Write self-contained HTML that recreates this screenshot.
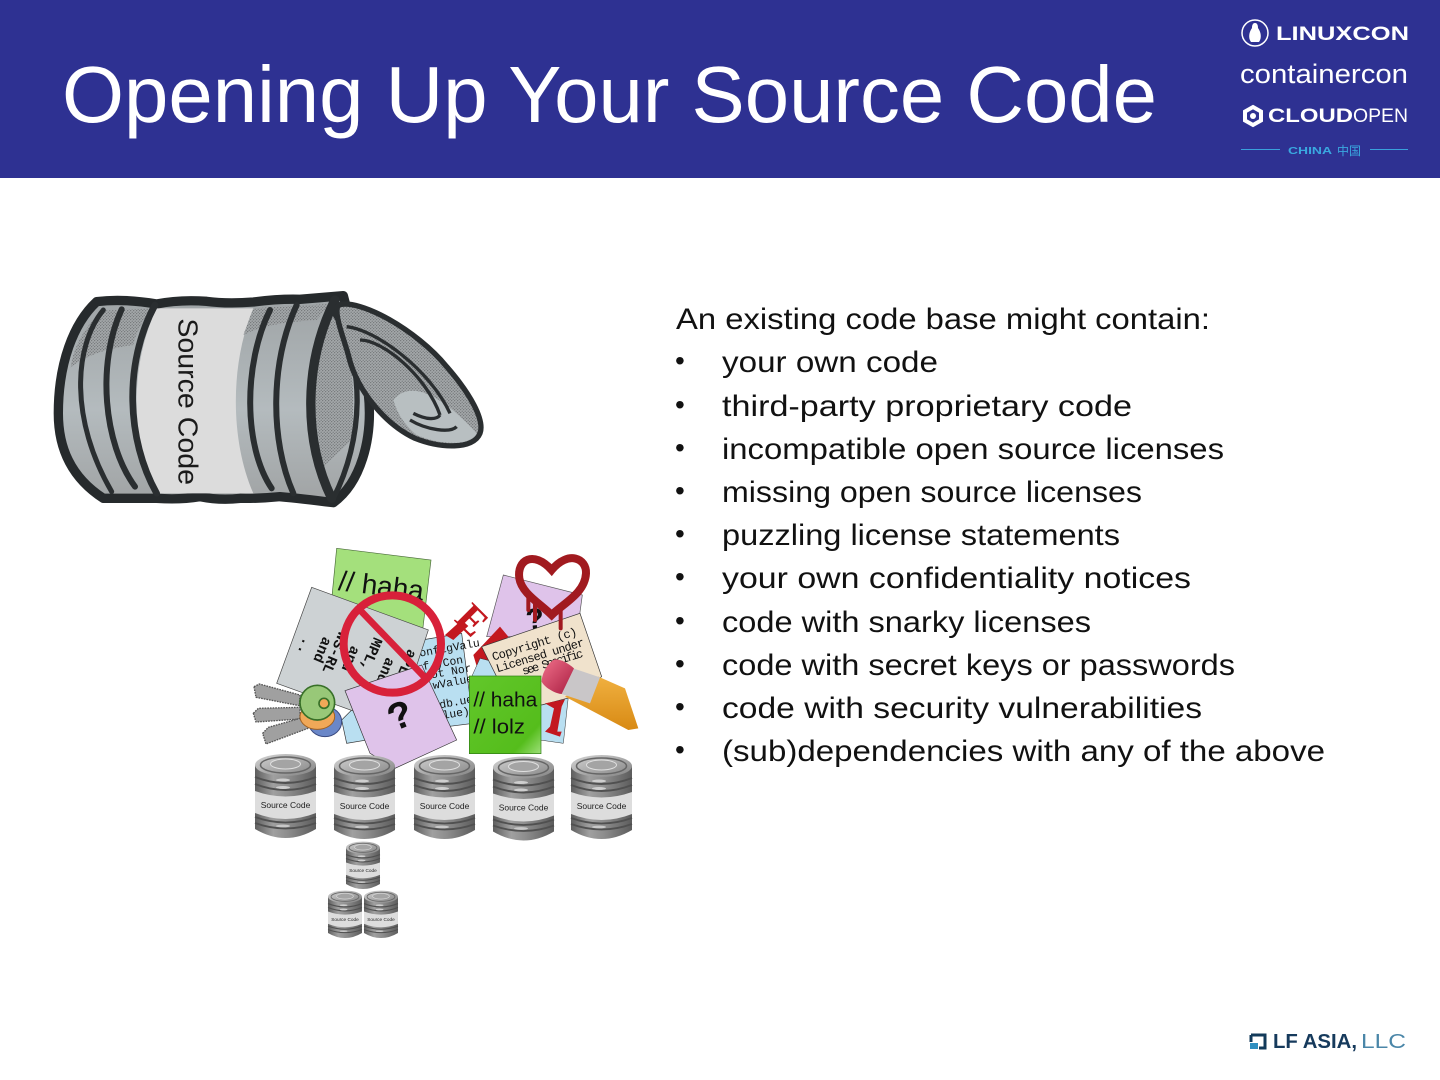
<!DOCTYPE html>
<html><head><meta charset="utf-8"><style>
html,body{margin:0;padding:0;background:#fff}
svg{display:block}
.b{font:30px "Liberation Sans",sans-serif;fill:#111}
.lab{font:8.5px "Liberation Sans",sans-serif;fill:#222}
.m{font-family:"Liberation Mono",monospace;fill:#111}
</style></head><body>
<svg width="1440" height="1080" viewBox="0 0 1440 1080" xmlns="http://www.w3.org/2000/svg">
<defs>
<linearGradient id="cg" x1="0" x2="1" y1="0" y2="0"><stop offset="0" stop-color="#5e5e5e"/><stop offset=".3" stop-color="#a0a0a0"/><stop offset=".55" stop-color="#8c8c8c"/><stop offset="1" stop-color="#5c5c5c"/></linearGradient>
<linearGradient id="tg" x1="0" x2="1" y1="0" y2="1"><stop offset="0" stop-color="#d4d4d4"/><stop offset="1" stop-color="#828282"/></linearGradient>
<linearGradient id="big" x1="0" x2="0" y1="0" y2="1"><stop offset="0" stop-color="#9ea3a5"/><stop offset=".55" stop-color="#b4bbbe"/><stop offset="1" stop-color="#a0a3a4"/></linearGradient>
<linearGradient id="grn" x1="0" x2="1" y1="0" y2="1"><stop offset="0" stop-color="#62c72a"/><stop offset=".8" stop-color="#55bd1c"/><stop offset="1" stop-color="#9fe07a"/></linearGradient>
<linearGradient id="gold" x1="0" x2="0" y1="0" y2="1"><stop offset="0" stop-color="#f0b040"/><stop offset="1" stop-color="#d88a14"/></linearGradient>
<linearGradient id="pink" x1="0" x2="1" y1="0" y2="1"><stop offset="0" stop-color="#f0708a"/><stop offset="1" stop-color="#a81c40"/></linearGradient>
<pattern id="dots" width="9" height="9" patternUnits="userSpaceOnUse"><rect width="9" height="9" fill="#a4a8aa"/><circle cx="2" cy="2" r="1.800" fill="#686b6d"/><circle cx="6.500" cy="6.500" r="1.800" fill="#686b6d"/></pattern>
<g id="can">
<path d="M0,12 V76 Q30.500,94 61,76 V12 Z" fill="url(#cg)"/>
<ellipse cx="30.500" cy="12" rx="30.500" ry="11" fill="url(#tg)"/>
<ellipse cx="30.500" cy="12" rx="25" ry="8" fill="none" stroke="#666" stroke-width="1.500"/>
<ellipse cx="30.500" cy="11" rx="15" ry="5" fill="#a4a4a4" stroke="#e0e0e0" stroke-width="1"/>
<path d="M0,24 Q30.500,36 61,24 M0,31 Q30.500,43 61,31" fill="none" stroke="#505050" stroke-width="2"/>
<ellipse cx="28" cy="27" rx="7" ry="1.500" fill="#cfcfcf"/>
<ellipse cx="28" cy="34.500" rx="7" ry="1.500" fill="#cfcfcf"/>
<path d="M0,38 Q30.500,49 61,38 V60 Q30.500,72 0,60 Z" fill="#dddddd"/>
<path d="M0,64 Q30.500,75 61,64 M0,70 Q30.500,81 61,70" fill="none" stroke="#505050" stroke-width="1.800"/>
<ellipse cx="28" cy="73" rx="7" ry="1.400" fill="#c8c8c8"/>
</g>
</defs>

<rect width="1440" height="1080" fill="#fff"/>
<rect width="1440" height="178" fill="#2e3192"/>
<text x="62" y="122" font-family="Liberation Sans, sans-serif" font-size="80" fill="#fff" textLength="1095" lengthAdjust="spacingAndGlyphs">Opening Up Your Source Code</text>

<!-- logos -->
<circle cx="1255" cy="33" r="13" fill="none" stroke="#fff" stroke-width="1.500"/>
<path d="M1255,23 c3,0 3,4 3,5 c3,4 4,10 1,14 h-8 c-3,-4 -2,-10 1,-14 c0,-1 0,-5 3,-5z" fill="#fff"/>
<text x="1276" y="40" font-family="Liberation Sans, sans-serif" font-weight="700" font-size="19" fill="#fff" textLength="133" lengthAdjust="spacingAndGlyphs">LINUXCON</text>
<text x="1240" y="83" font-family="Liberation Sans, sans-serif" font-size="27" fill="#fff" textLength="168" lengthAdjust="spacingAndGlyphs">containercon</text>
<path d="M1253,107 l8,4.500 v9 l-8,4.500 l-8,-4.500 v-9z" fill="none" stroke="#fff" stroke-width="4"/>
<circle cx="1253" cy="116" r="3" fill="#fff"/>
<text x="1268" y="122" font-family="Liberation Sans, sans-serif" font-weight="700" font-size="19.500" fill="#fff" textLength="85" lengthAdjust="spacingAndGlyphs">CLOUD</text>
<text x="1353" y="122" font-family="Liberation Sans, sans-serif" font-size="19.500" fill="#fff" textLength="55" lengthAdjust="spacingAndGlyphs">OPEN</text>
<path d="M1241,149.500 H1280 M1370,149.500 H1408" stroke="#3aa0dc" stroke-width="1"/>
<text x="1288" y="154" font-family="Liberation Sans, sans-serif" font-size="10.500" font-weight="700" fill="#3aa8e0" textLength="44" lengthAdjust="spacingAndGlyphs">CHINA</text>
<text x="1337" y="155" font-family="Liberation Sans, Noto Sans CJK SC, sans-serif" font-size="12" fill="#3aa8e0">中国</text>

<!-- big can (zoom coords) -->
<g transform="translate(40,280) scale(.33333)">
<path d="M170,65 Q250,55 350,72 Q420,58 500,64 Q560,72 640,66 Q720,56 780,58 L910,47 L985,340 C1000,480 960,610 880,668 Q780,655 720,650 Q660,656 600,655 Q540,662 480,650 Q420,660 350,655 L190,655 C90,590 55,500 55,400 C55,250 100,130 170,65Z" fill="url(#big)" stroke="#262a2c" stroke-width="28" stroke-linejoin="round"/>
<path d="M350,85 H640 C570,250 570,480 640,640 H350 C270,480 270,250 350,85Z" fill="#dcdcdc"/>
<path d="M190,92 L335,85 C300,130 285,170 280,195 C200,205 140,225 92,262 C100,200 140,130 190,92Z" fill="url(#dots)"/>
<path d="M640,85 L870,72 L830,120 C760,125 680,130 610,165 Z" fill="url(#dots)"/>
<path d="M875,95 C930,180 950,300 935,480 L850,560 C820,400 800,250 875,95Z" fill="url(#dots)"/>
<g fill="none" stroke="#2a2e30" stroke-linecap="round">
<path d="M190,90 C100,200 90,420 215,635" stroke-width="15"/>
<path d="M245,88 C170,250 190,490 285,620" stroke-width="18"/>
<path d="M345,75 C250,250 260,480 350,640" stroke-width="20"/>
<path d="M690,90 C610,250 610,500 695,625" stroke-width="18"/>
<path d="M770,75 C690,250 690,480 760,640" stroke-width="18"/>
<path d="M885,60 C790,250 790,480 875,655" stroke-width="28"/>
<path d="M880,95 C980,250 970,480 880,655" stroke-width="16"/>
</g>
<path d="M895,75 C960,55 1130,150 1220,260 C1290,340 1335,420 1320,460 C1300,510 1200,505 1125,475 C1040,435 950,335 925,225 C910,170 880,100 895,75Z" fill="url(#dots)" stroke="#2a2e30" stroke-width="16" stroke-linejoin="round"/>
<path d="M1060,360 C1110,300 1200,340 1310,460 C1290,500 1200,495 1130,465 C1100,440 1075,410 1060,360Z" fill="#b8bfc1"/>
<path d="M920,140 C1010,150 1170,270 1230,400 M960,180 C1030,180 1160,290 1200,405 M1120,400 C1160,420 1190,420 1200,405 M1110,420 C1160,450 1230,460 1250,440" fill="none" stroke="#2a2e30" stroke-width="10"/>
<text transform="translate(416,115) rotate(90)" font-family="Liberation Sans, sans-serif" font-size="84" fill="#1a1a1a" textLength="500" lengthAdjust="spacingAndGlyphs">Source Code</text>
</g>

<!-- pile (zoom coords) -->
<g transform="translate(240,540) scale(.33333)">
<polygon points="290,25 573,60 548,270 270,230" fill="#a4e07c" stroke="#4a6a3a" stroke-width="2"/>
<text transform="translate(293,150) rotate(7)" font-family="Liberation Sans, sans-serif" font-size="84" fill="#111">// haha</text>
<polygon points="545,300 665,280 700,550 620,560 320,610 305,540" fill="#b9dff1" stroke="#333" stroke-width="2"/>
<g class="m" font-size="34"><text transform="translate(540,350) rotate(-10)">onfigValu</text><text transform="translate(550,390) rotate(-10)">f yCon</text><text transform="translate(575,415) rotate(-10)">ot Nor</text><text transform="translate(580,447) rotate(-10)">wValue</text><text transform="translate(600,505) rotate(-10)">db.ue</text><text transform="translate(610,537) rotate(-10)">lue)</text></g>
<polygon points="215,142 565,270 470,560 110,430" fill="#cdd2d4" stroke="#444" stroke-width="2"/>
<g class="m" font-size="44" font-weight="700"><text transform="translate(192,290) rotate(113)">..</text><text transform="translate(250,288) rotate(113)">and</text><text transform="translate(298,272) rotate(113)">WS-RL</text><text transform="translate(335,315) rotate(113)">and</text><text transform="translate(402,290) rotate(113)">MPL,</text><text transform="translate(440,350) rotate(113)">and</text><text transform="translate(505,325) rotate(113)">aPL</text></g>
<polygon points="315,452 545,375 650,600 465,685 390,640" fill="#dfc3ea" stroke="#333" stroke-width="2"/>
<text transform="translate(462,575) rotate(-22)" font-family="Liberation Mono, monospace" font-weight="700" font-size="118" fill="#111">?</text>
<circle cx="457" cy="312" r="146" fill="none" stroke="#d8213a" stroke-width="24"/>
<line x1="358" y1="208" x2="558" y2="416" stroke="#d8213a" stroke-width="20"/>
<polygon points="790,105 1027,165 1010,290 740,290" fill="#dfc3ea" stroke="#555" stroke-width="2"/>
<text transform="translate(640,240) rotate(45)" font-family="Liberation Serif, serif" font-weight="700" font-size="120" fill="#c3181f">E</text>
<polygon points="615,285 665,240 685,258 640,300" fill="#c3181f"/>
<polygon points="700,345 780,260 805,290 760,340 745,405 715,395" fill="#c3181f"/>
<text transform="translate(860,270) rotate(-5)" font-family="Liberation Sans, sans-serif" font-weight="700" font-size="90" fill="#111">?</text>
<polygon points="695,410 720,355 900,400 905,490 985,470 970,610 900,600" fill="#b9dff1" stroke="#333" stroke-width="1.500"/>
<polygon points="725,320 1020,220 1085,410 1000,470 905,495 770,410" fill="#f0e2cc" stroke="#333" stroke-width="2"/>
<g class="m" font-size="36" fill="#333"><text transform="translate(760,362) rotate(-17)" textLength="265">Copyright (c)</text><text transform="translate(772,397) rotate(-17)" textLength="275">Licensed under</text><text transform="translate(850,405) rotate(-17)" textLength="190">see Specific</text></g>
<polygon points="915,490 975,478 965,500 952,575 965,575 960,590 915,575 930,560 942,505" fill="#c3181f"/>
<rect x="688" y="408" width="215" height="233" fill="url(#grn)" stroke="#2d7a14" stroke-width="2"/>
<text x="700" y="500" font-family="Liberation Sans, sans-serif" font-size="60" fill="#111" textLength="192" lengthAdjust="spacingAndGlyphs">// haha</text>
<text x="700" y="580" font-family="Liberation Sans, sans-serif" font-size="60" fill="#111" textLength="155" lengthAdjust="spacingAndGlyphs">// lolz</text>
<path d="M1075,410 L1155,445 L1195,565 L1165,570 L975,470Z" fill="url(#gold)"/>
<path d="M1000,385 L1080,412 L1050,490 L965,462Z" fill="#c9c6c8"/>
<path d="M945,358 C925,365 905,400 905,425 C915,445 950,462 965,462 L1002,385 C985,370 965,358 945,358Z" fill="url(#pink)"/>
<g stroke-linejoin="round">
<path d="M42,440 L58,432 L180,465 L178,497 L48,472Z" fill="#a0a0a0" stroke="#555" stroke-width="4" stroke-dasharray="5 3"/>
<path d="M40,520 L55,505 L180,502 L180,537 L48,546Z" fill="#a0a0a0" stroke="#555" stroke-width="4" stroke-dasharray="5 3"/>
<path d="M68,580 L85,562 L205,528 L212,562 L78,612Z" fill="#a0a0a0" stroke="#555" stroke-width="4" stroke-dasharray="5 3"/>
</g>
<ellipse cx="255" cy="545" rx="50" ry="45" fill="#6a87c8" stroke="#3a4a80" stroke-width="3"/>
<ellipse cx="232" cy="530" rx="52" ry="38" fill="#f0a858" stroke="#a06020" stroke-width="3"/>
<ellipse cx="232" cy="488" rx="52" ry="52" fill="#98c878" stroke="#387028" stroke-width="5"/>
<circle cx="252" cy="490" r="15" fill="#f0a858" stroke="#387028" stroke-width="5"/>
<path d="M935,90 C880,30 830,60 838,115 C845,160 900,190 935,225 C970,190 1035,160 1038,100 C1040,55 985,30 935,90Z" fill="none" stroke="#a11a1f" stroke-width="24"/>
<path d="M865,160 V210 M885,180 V240 M962,200 V265" stroke="#a11a1f" stroke-width="12" stroke-linecap="round"/>
</g>

<!-- small cans -->
<g transform="translate(255,753)"><use href="#can"/><text class="lab" x="30.500" y="55" text-anchor="middle">Source Code</text></g>
<g transform="translate(334,754)"><use href="#can"/><text class="lab" x="30.500" y="55" text-anchor="middle">Source Code</text></g>
<g transform="translate(414,754)"><use href="#can"/><text class="lab" x="30.500" y="55" text-anchor="middle">Source Code</text></g>
<g transform="translate(493,755.500)"><use href="#can"/><text class="lab" x="30.500" y="55" text-anchor="middle">Source Code</text></g>
<g transform="translate(571,754)"><use href="#can"/><text class="lab" x="30.500" y="55" text-anchor="middle">Source Code</text></g>
<g transform="translate(346,841) scale(.557,.565)"><use href="#can"/><text class="lab" x="30.500" y="55" text-anchor="middle">Source Code</text></g>
<g transform="translate(328,890) scale(.557,.565)"><use href="#can"/><text class="lab" x="30.500" y="55" text-anchor="middle">Source Code</text></g>
<g transform="translate(364,890) scale(.557,.565)"><use href="#can"/><text class="lab" x="30.500" y="55" text-anchor="middle">Source Code</text></g>

<!-- body text -->
<g font-family="Liberation Sans, sans-serif" font-size="28" fill="#111">
<text x="675" y="370">•</text><text x="675" y="414">•</text><text x="675" y="457">•</text><text x="675" y="500">•</text><text x="675" y="543">•</text><text x="675" y="586">•</text><text x="675" y="630">•</text><text x="675" y="673">•</text><text x="675" y="716">•</text><text x="675" y="759">•</text>
</g>
<g transform="translate(0,-1)">
<text class="b" x="676" y="330" textLength="534" lengthAdjust="spacingAndGlyphs">An existing code base might contain:</text>
<text class="b" x="722" y="373" textLength="216" lengthAdjust="spacingAndGlyphs">your own code</text>
<text class="b" x="722" y="417" textLength="410" lengthAdjust="spacingAndGlyphs">third-party proprietary code</text>
<text class="b" x="722" y="460" textLength="502" lengthAdjust="spacingAndGlyphs">incompatible open source licenses</text>
<text class="b" x="722" y="503" textLength="420" lengthAdjust="spacingAndGlyphs">missing open source licenses</text>
<text class="b" x="722" y="546" textLength="398" lengthAdjust="spacingAndGlyphs">puzzling license statements</text>
<text class="b" x="722" y="589" textLength="469" lengthAdjust="spacingAndGlyphs">your own confidentiality notices</text>
<text class="b" x="722" y="633" textLength="369" lengthAdjust="spacingAndGlyphs">code with snarky licenses</text>
<text class="b" x="722" y="676" textLength="513" lengthAdjust="spacingAndGlyphs">code with secret keys or passwords</text>
<text class="b" x="722" y="719" textLength="480" lengthAdjust="spacingAndGlyphs">code with security vulnerabilities</text>
<text class="b" x="722" y="762" textLength="603" lengthAdjust="spacingAndGlyphs">(sub)dependencies with any of the above</text>
</g>

<!-- footer -->
<path d="M1251,1035 H1265 V1048 H1259 M1251,1035 V1042" fill="none" stroke="#123a5a" stroke-width="3"/>
<rect x="1250" y="1043" width="8" height="6" fill="#2f8fc0"/>
<text x="1273" y="1048" font-family="Liberation Sans, sans-serif" font-weight="700" font-size="20" fill="#163a5c" textLength="84" lengthAdjust="spacingAndGlyphs">LF ASIA,</text>
<text x="1361" y="1048" font-family="Liberation Sans, sans-serif" font-size="20" fill="#4a86a8" textLength="45" lengthAdjust="spacingAndGlyphs">LLC</text>
</svg>
</body></html>
